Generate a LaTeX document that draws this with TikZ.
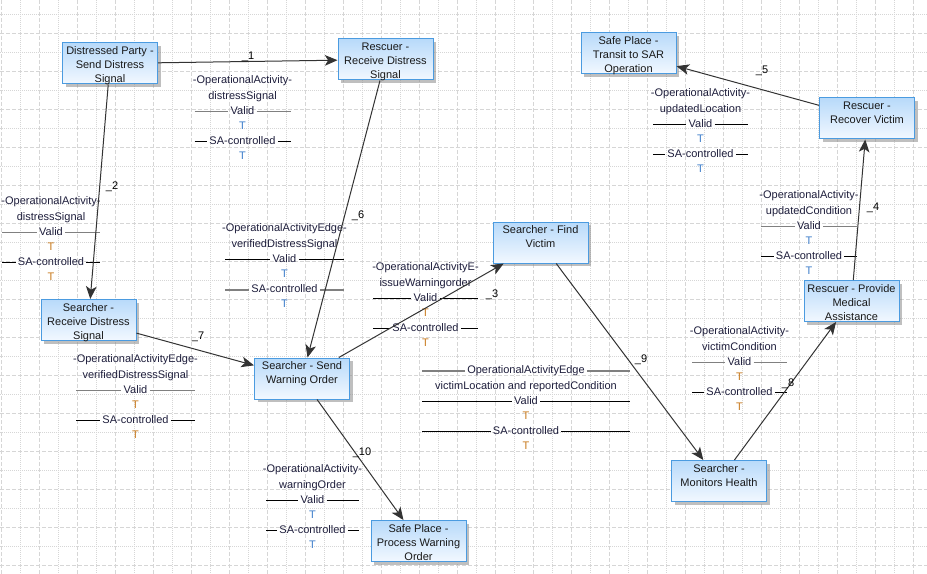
\documentclass[tikz,border=0pt]{standalone}
\usepackage{fontspec}
\setmainfont{Liberation Sans}
\usetikzlibrary{arrows.meta,shadows}
\definecolor{actborder}{HTML}{4B9BE0}
\definecolor{acttop}{HTML}{B8DAFA}
\definecolor{actbot}{HTML}{F2F8FF}
\definecolor{edgecol}{HTML}{333333}
\definecolor{gridcol}{HTML}{D6D6D6}
\definecolor{tblue}{HTML}{3F7FCB}
\definecolor{torange}{HTML}{C97B1F}
\definecolor{infotext}{HTML}{1E1E3C}
\newcommand\eafont{\fontsize{8.25pt}{10.5pt}\selectfont}
\newcommand\acttext[1]{\parbox[c][28pt][t]{70pt}{\centering\strut #1}}
\newcommand\flowinfo[9]{%
\node[info] (#1h) at (#2,#3) {#5};
\node[info] (#1n) at (#2,#3+15.2) {#6};
\node[info] (#1v) at (#2,#3+30.4) {Valid};
\node[info,text=#7] (#1t) at (#2,#3+45.6) {T};
\node[info] (#1s) at (#2,#3+60.8) {SA-controlled};
\node[info,text=#7] (#1u) at (#2,#3+76) {T};
\draw[#8] (#2-#4,#3+30.4) -- (#1v.west) (#1v.east) -- (#2+#4,#3+30.4);
\draw[#9] (#2-#4,#3+60.8) -- (#1s.west) (#1s.east) -- (#2+#4,#3+60.8);
}

\begin{document}
\begin{tikzpicture}[x=0.75pt,y=-0.75pt,
  act/.style={draw=actborder,line width=0.75pt,top color=acttop,bottom color=actbot,
    minimum width=71.25pt,minimum height=30.75pt,inner sep=0pt,font=\eafont,text=black!90,
    drop shadow={shadow xshift=2.5pt,shadow yshift=-2.5pt,fill=black!45,opacity=0.55}},
  flow/.style={draw=edgecol,line width=0.75pt,-{Stealth[length=9.5pt,width=8pt,inset=2.5pt,fill=edgecol]}},
  info/.style={font=\eafont,text=infotext,inner sep=1.5pt,text height=6pt,text depth=1.7pt},
  elabel/.style={font=\eafont,text=black,inner sep=0pt,text height=6pt,text depth=1.7pt},
  sep/.style={draw=black,line width=0.75pt},
  sepg/.style={draw=black!50,line width=1.3pt},
  griddash/.style={draw=gridcol,line width=0.75pt,dash pattern=on 3pt off 1.5pt},
  griddot/.style={draw=gridcol,line width=0.75pt,dash pattern=on 0.75pt off 0.75pt}]
\fill[white] (0,0) rectangle (927,574);
\useasboundingbox (0,0) rectangle (927,574);
\foreach \x in {1.3,39.3,...,927} {\draw[griddash] (\x,0) -- (\x,574);}
\foreach \x in {20.3,58.3,...,927} {\draw[griddot] (\x,0) -- (\x,574);}
\foreach \y in {33.3,71.3,...,574} {\draw[griddash] (0,\y) -- (927,\y);}
\foreach \y in {14.3,52.3,...,574} {\draw[griddot] (0,\y) -- (927,\y);}

\node[act] (dp) at (110,63.5) {\acttext{Distressed Party -\\Send Distress\\Signal}};
\node[act] (rr) at (385.5,59.5) {\acttext{Rescuer -\\Receive Distress\\Signal}};
\node[act] (st) at (628.5,53) {\acttext{Safe Place -\\Transit to SAR\\Operation}};
\node[act] (rv) at (867,118.5) {\acttext{Rescuer -\\Recover Victim}};
\node[act] (sr) at (88.5,320) {\acttext{Searcher -\\Receive Distress\\Signal}};
\node[act] (sw) at (302,378.5) {\acttext{Searcher - Send\\Warning Order}};
\node[act] (fv) at (540.5,242.5) {\acttext{Searcher - Find\\Victim}};
\node[act] (pm) at (851.5,301) {\acttext{Rescuer - Provide\\Medical\\Assistance}};
\node[act] (mh) at (719,481) {\acttext{Searcher -\\Monitors Health}};
\node[act] (pw) at (418.5,541) {\acttext{Safe Place -\\Process Warning\\Order}};

\flowinfo{e1}{242.5}{81}{48}{-OperationalActivity-}{distressSignal}{tblue}{sepg}{sep}
\flowinfo{e2}{51}{202}{49}{-OperationalActivity-}{distressSignal}{torange}{sepg}{sep}
\flowinfo{e6}{284.5}{229}{59.5}{-OperationalActivityEdge-}{verifiedDistressSignal}{tblue}{sep}{sepg}
\flowinfo{e3}{425.5}{268}{52.5}{-OperationalActivityE-}{issueWarningorder}{torange}{sep}{sep}
\flowinfo{e7}{135.5}{360}{59.5}{-OperationalActivityEdge-}{verifiedDistressSignal}{torange}{sepg}{sep}
\flowinfo{e9}{526}{371}{104}{OperationalActivityEdge}{victimLocation and reportedCondition}{torange}{sep}{sep}
\draw[sepg] (422,371) -- (e9h.west) (e9h.east) -- (630,371);
\flowinfo{e8}{739.5}{332}{47.5}{-OperationalActivity-}{victimCondition}{torange}{sepg}{sep}
\flowinfo{e4}{809}{196}{48}{-OperationalActivity-}{updatedCondition}{tblue}{sepg}{sep}
\flowinfo{e5}{700.5}{94}{47.5}{-OperationalActivity-}{updatedLocation}{tblue}{sep}{sep}
\flowinfo{e10}{312.5}{470}{46.5}{-OperationalActivity-}{warningOrder}{tblue}{sep}{sep}

\draw[flow] (dp) -- (rr);
\draw[flow] (dp) -- (sr);
\draw[flow] (rr) -- (sw);
\draw[flow] (sr) -- (sw);
\draw[flow] (sw) -- (fv);
\draw[flow] (fv) -- (mh);
\draw[flow] (mh) -- (pm);
\draw[flow] (pm) -- (rv);
\draw[flow] (rv) -- (st);
\draw[flow] (sw) -- (pw);

\node[elabel] (l1) at (248,57) {\_1};
\node[elabel] (l2) at (112,187) {\_2};
\node[elabel] (l3) at (492,295) {\_3};
\node[elabel] (l4) at (873,208) {\_4};
\node[elabel] (l5) at (762,71) {\_5};
\node[elabel] (l6) at (358,216) {\_6};
\node[elabel] (l7) at (198,337) {\_7};
\node[elabel] (l8) at (788,384) {\_8};
\node[elabel] (l9) at (641,360) {\_9};
\node[elabel] (l10) at (362,453) {\_10};
\end{tikzpicture}
\end{document}
